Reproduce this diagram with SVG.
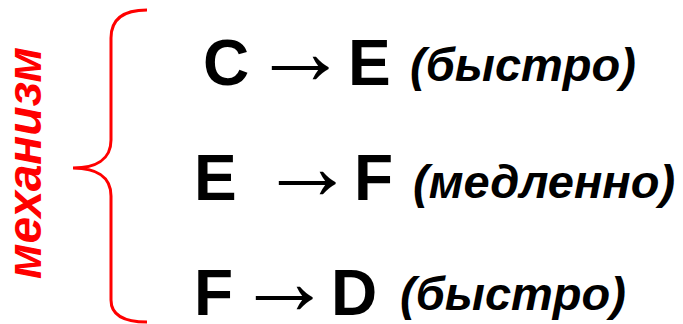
<svg xmlns="http://www.w3.org/2000/svg" width="683" height="324" viewBox="0 0 683 324">
<style>
.big{font-family:"Liberation Sans",Arial,sans-serif;font-weight:bold;font-size:64px;fill:#000}
.arr{font-family:"Liberation Sans",Arial,sans-serif;font-weight:normal;font-size:96px;fill:#000}
.note{font-family:"Liberation Sans",Arial,sans-serif;font-weight:bold;font-style:italic;font-size:47px;fill:#000}
.red{font-family:"Liberation Sans",Arial,sans-serif;font-weight:bold;font-style:italic;font-size:48px;fill:#ff0000}
.brace{fill:none;stroke:#ff0000;stroke-width:3}
</style>
<g id="label">
<text class="red" text-anchor="middle" transform="translate(41,163) rotate(-90)">механизм</text>
</g>
<g id="brace">
<path class="brace" d="M147,10 C125,10 111,18 111,38 L111,140 C111,160 95,168 73,168 C95,168 111,176 111,196 L111,300 C111,316 125,322 147,322"/>
</g>
<g id="step1">
<text class="big" x="203" y="85">C</text>
<text class="arr" x="252" y="84">→</text>
<text class="big" x="348" y="85">E</text>
<text class="note" x="410" y="81">(быстро)</text>
</g>
<g id="step2">
<text class="big" x="194" y="200">E</text>
<text class="arr" x="259" y="199">→</text>
<text class="big" x="354" y="200">F</text>
<text class="note" x="413" y="198">(медленно)</text>
</g>
<g id="step3">
<text class="big" x="194" y="315">F</text>
<text class="arr" x="236" y="314">→</text>
<text class="big" x="331" y="315">D</text>
<text class="note" x="400" y="310">(быстро)</text>
</g>
</svg>
